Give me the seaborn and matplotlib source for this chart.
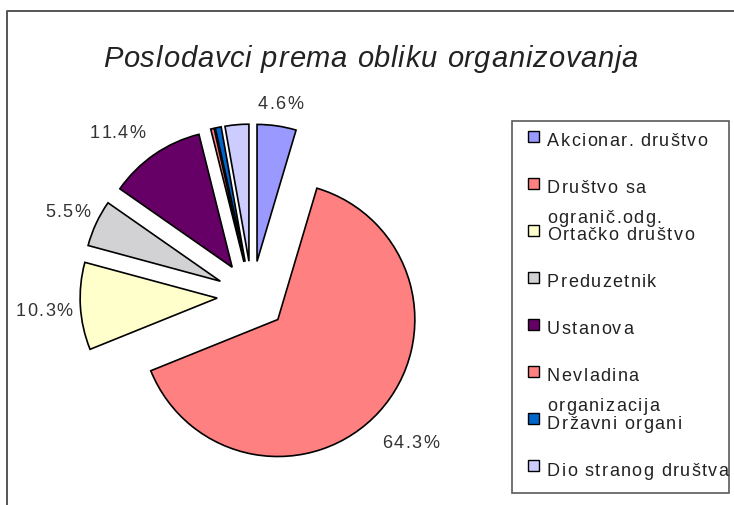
import numpy as np
import matplotlib
matplotlib.use("Agg")
import matplotlib.pyplot as plt
from matplotlib import font_manager
from matplotlib.patches import Rectangle
from matplotlib.lines import Line2D
from matplotlib.transforms import IdentityTransform
import seaborn as sns

# --- Data ---
title = "Poslodavci prema obliku organizovanja"
categories = [
    "Akcionar. društvo",
    "Društvo sa\nogranič.odg.",
    "Ortačko društvo",
    "Preduzetnik",
    "Ustanova",
    "Nevladina\norganizacija",
    "Državni organi",
    "Dio stranog društva",
]
shares = [4.6, 64.3, 10.3, 5.5, 11.4, 0.4, 0.7, 2.8]
colors = ["#9999FF", "#FF8080", "#FFFFCC", "#D2D2D4",
          "#660066", "#FF8080", "#0066CC", "#CCCCFF"]
# placement of each percent label: radial distance and angular nudge (deg)
label_dist = [1.18, 1.31, 1.265, 1.23, 1.30, None, None, None]
label_turn = [0, 0, 0, 0, 5.5, 0, 0, 0]

W, H = 734, 506
R_PX = 137.0
CX, CY = 252.0, 297.0  # pie centre, px from top-left

sns.set_theme(style="white")
installed = {f.name for f in font_manager.fontManager.ttflist}
NARROW = "Liberation Sans Narrow" in installed
FONT = "Liberation Sans Narrow" if NARROW else "Liberation Sans"
plt.rcParams["font.family"] = [FONT, "DejaVu Sans"]
BODY = 15 if NARROW else 13
TRACK = 1.6 if NARROW else 1.4
TITLE_SIZE = 24.5 if NARROW else 21

fig = plt.figure(figsize=(W / 100, H / 100), dpi=100)
fig.patch.set_facecolor("white")
renderer = fig.canvas.get_renderer()


def text_width(s, size, style):
    t = fig.text(0, 0, s, fontsize=size, fontstyle=style)
    w = t.get_window_extent(renderer).width
    t.remove()
    return w


def tracked_text(s, x, y, size, track=0.0, width=None, ha="left",
                 style="normal", color="#222222"):
    # x in px from left, y = baseline in px from top; letters spaced out
    ref_w = text_width("l", size, style)
    offsets = [text_width(s[:i] + "l", size, style) - ref_w for i in range(len(s))]
    natural = text_width(s, size, style)
    if width is not None:
        track = (width - natural) / (len(s) - 1)
    total = natural + track * (len(s) - 1)
    x0 = x - total / 2 if ha == "center" else x
    for i, ch in enumerate(s):
        if ch == " ":
            continue
        fig.text(x0 + offsets[i] + track * i, H - y, ch, fontsize=size,
                 fontstyle=style, color=color, ha="left", va="baseline",
                 transform=IdentityTransform())


# --- Pie ---
ax = fig.add_axes([0, 0, 1, 1])
wedges, _ = ax.pie(
    shares, colors=colors, startangle=90, counterclock=False,
    explode=[0.255] * len(shares), radius=1.0,
    wedgeprops=dict(edgecolor="black", linewidth=1.2),
)
ax.set_aspect("auto")
ax.set_xlim(-CX / R_PX, (W - CX) / R_PX)
ax.set_ylim(-(H - CY) / R_PX, CY / R_PX)
ax.axis("off")

for w, v, dist, turn in zip(wedges, shares, label_dist, label_turn):
    if dist is None:
        continue
    mid = np.radians((w.theta1 + w.theta2) / 2 + turn)
    cx, cy = w.center
    px, py = ax.transData.transform((cx + dist * np.cos(mid), cy + dist * np.sin(mid)))
    tracked_text(f"{v:.1f}%", px, H - py + 0.36 * BODY * 1.39, BODY,
                 track=TRACK, ha="center", color="#333333")

# --- Title ---
tracked_text(title, 370.5, 67, TITLE_SIZE, width=535, ha="center",
             style="italic")

# --- Chart frame (top and left edges visible) ---
fig.add_artist(Line2D([7, 7, W + 5], [-5, H - 12, H - 12], color="#555555",
                      lw=1.4, transform=IdentityTransform()))

# --- Legend ---
fig.add_artist(Rectangle((512, H - 494), 729 - 512, 494 - 122, fill=False,
                         ec="#5a5a5a", lw=1.2, transform=IdentityTransform()))
step = 47.1
for i, (name, col) in enumerate(zip(categories, colors)):
    yc = 137 + i * step
    fig.add_artist(Rectangle((528, H - yc - 5.5), 11, 11, fc=col, ec="black",
                             lw=1.0, transform=IdentityTransform()))
    for k, line in enumerate(name.split("\n")):
        tracked_text(line, 547, yc + 9 + k * 30, BODY, track=TRACK,
                     color="#222222")

fig.savefig("out.png", dpi=100)
plt.close(fig)
